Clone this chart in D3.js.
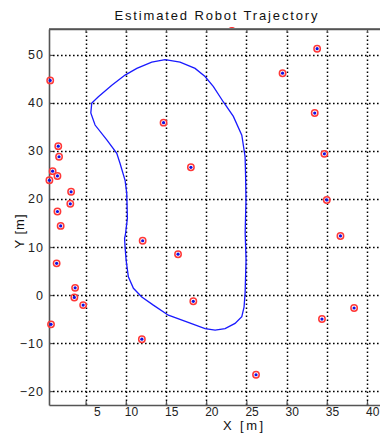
<!DOCTYPE html>
<html><head><meta charset="utf-8">
<script src="https://cdn.jsdelivr.net/npm/d3@7"></script>
<style>
html,body{margin:0;padding:0;background:#fff;}
svg{display:block;font-family:"Liberation Sans",Arial,sans-serif;}
</style></head>
<body>
<svg id="chart" width="380" height="435"></svg>
<script>
// ---------- data ----------
const chartTitle = "Estimated Robot Trajectory";
const xLabel = "X [m]";
const yLabel = "Y [m]";
const xTicks = [5, 10, 15, 20, 25, 30, 35, 40];
const yTicks = [-20, -10, 0, 10, 20, 30, 40, 50];

// estimated trajectory (closed loop)
const trajX = [24.96, 24.85, 24.95, 24.9, 24.84, 24.43, 23.38, 22.14, 20.90, 19.86, 18.62, 16.75, 14.89, 13.23, 11.37, 9.91, 8.26, 6.59, 5.77, 5.65, 6.18, 7.64, 8.88, 9.29, 9.91, 10.12, 10.2, 9.95, 9.85, 9.91, 10.04, 10.32, 10.95, 11.99, 13.43, 15.30, 17.59, 19.86, 21.11, 22.35, 23.59, 24.43, 24.71, 24.84, 24.96];
const trajY = [7.3, 13.0, 19.8, 25.0, 28.8, 33.3, 37.2, 40.2, 43.4, 45.5, 47.2, 48.5, 49.0, 48.5, 47.2, 45.8, 43.7, 41.3, 40.0, 37.9, 35.4, 32.3, 29.5, 27.4, 23.9, 21.2, 16.0, 12.5, 11.8, 10.0, 7.3, 3.8, 1.4, -0.4, -2.1, -4.2, -5.6, -7.0, -7.3, -7.0, -5.9, -4.5, -2.5, 0.4, 7.3];

// landmarks
const lmX = [0.6, 23.2, 33.8, 29.5, 33.5, 34.7, 14.7, 18.1, 35.0, 36.7, 12.1, 16.5, 18.4, 12.0, 26.2, 34.4, 38.4, 1.6, 1.7, 0.9, 1.5, 0.5, 3.2, 3.1, 1.5, 1.9, 1.4, 3.7, 3.6, 4.7, 0.7];
const lmY = [44.7, 56.4, 51.3, 46.2, 37.9, 29.4, 35.9, 26.6, 19.8, 12.3, 11.3, 8.5, -1.3, -9.2, -16.6, -5.0, -2.7, 31.0, 28.8, 25.8, 24.8, 23.9, 21.5, 19.0, 17.4, 14.4, 6.6, 1.5, -0.5, -2.1, -6.1];

// ---------- drawing ----------
const svg = d3.select("#chart");
const L = 49, T = 29, B = 405, R = 385;
const x = d3.scaleLinear().domain([0.45, 42.2]).range([L, L + 41.75 * 8.04]);
const y = d3.scaleLinear().domain([-22.9, 55.4]).range([B, T]);

const defs = svg.append("defs");
defs.append("clipPath").attr("id", "mk")
  .append("rect").attr("x", 40).attr("y", 27).attr("width", 360).attr("height", B - 27 + 5);
defs.append("clipPath").attr("id", "pa")
  .append("rect").attr("x", L).attr("y", T).attr("width", R - L).attr("height", B - T);

// grid
const grid = svg.append("g").attr("stroke", "#000").attr("stroke-width", 1.5)
  .attr("stroke-dasharray", "1.6,2.4").attr("fill", "none");
grid.selectAll("line.vx").data(xTicks).join("line")
  .attr("x1", d => Math.round(x(d)) + 0.5).attr("x2", d => Math.round(x(d)) + 0.5)
  .attr("y1", B).attr("y2", T);
grid.selectAll("line.hy").data(yTicks).join("line")
  .attr("x1", L).attr("x2", R)
  .attr("y1", d => Math.round(y(d)) + 0.5).attr("y2", d => Math.round(y(d)) + 0.5);

// axes (D3 axes, inward ticks)
const axisColor = "#555";
const gx = svg.append("g").attr("transform", `translate(0,${B})`)
  .call(d3.axisBottom(x).tickValues(xTicks).tickSizeInner(-4).tickSizeOuter(0).tickFormat(d3.format("d")));
const gy = svg.append("g").attr("transform", `translate(${L},0)`)
  .call(d3.axisLeft(y).tickValues(yTicks).tickSizeInner(-4).tickSizeOuter(0).tickFormat(d3.format("d")));
const gt = svg.append("g").attr("transform", `translate(0,${T})`)
  .call(d3.axisTop(x).tickValues(xTicks).tickSizeInner(-4).tickSizeOuter(0).tickFormat(""));
[gx, gy, gt].forEach(g => {
  g.select(".domain").attr("stroke", axisColor).attr("stroke-width", 1.6);
  g.selectAll(".tick line").attr("stroke", axisColor).attr("stroke-width", 1.2);
});
gx.selectAll(".tick text").attr("font-size", 12).attr("fill", "#222")
  .attr("text-anchor", "start").attr("x", d => d < 10 ? 8 : -1.5).attr("dy", "0.9em").attr("y", 0);
gy.selectAll(".tick text").attr("font-size", 12.5).attr("fill", "#222").attr("letter-spacing", "1px")
  .attr("x", -5);
gt.selectAll(".tick text").remove();

// trajectory
const line = d3.line().x((d, i) => x(trajX[i])).y((d, i) => y(trajY[i]));
svg.append("path").datum(trajX).attr("d", line)
  .attr("fill", "none").attr("stroke", "#1a1aff").attr("stroke-width", 1.3)
  .attr("clip-path", "url(#pa)");

// landmarks
const lm = svg.append("g").attr("clip-path", "url(#mk)");
lm.selectAll("circle.r").data(lmX).join("circle")
  .attr("cx", (d, i) => x(lmX[i])).attr("cy", (d, i) => y(lmY[i])).attr("r", 3.2)
  .attr("fill", "none").attr("stroke", "#ff3838").attr("stroke-width", 1.5);
lm.selectAll("circle.b").data(lmX).join("circle")
  .attr("cx", (d, i) => x(lmX[i])).attr("cy", (d, i) => y(lmY[i])).attr("r", 1.6)
  .attr("fill", "#1010e0");

// top border above markers
svg.append("line").attr("x1", L).attr("x2", R).attr("y1", T).attr("y2", T)
  .attr("stroke", axisColor).attr("stroke-width", 1.6);

// title and labels
svg.append("text").attr("x", 216).attr("y", 20).attr("text-anchor", "middle")
  .attr("font-size", 13).attr("fill", "#111").attr("textLength", 203).attr("lengthAdjust", "spacing")
  .text(chartTitle);
svg.append("text").attr("x", 243).attr("y", 430).attr("text-anchor", "middle")
  .attr("font-size", 13).attr("fill", "#111").attr("textLength", 40).attr("lengthAdjust", "spacing")
  .text(xLabel);
svg.append("text").attr("transform", "translate(24,231) rotate(-90)").attr("text-anchor", "middle")
  .attr("font-size", 13).attr("fill", "#111").attr("letter-spacing", "1px")
  .text(yLabel);
</script>
</body></html>
